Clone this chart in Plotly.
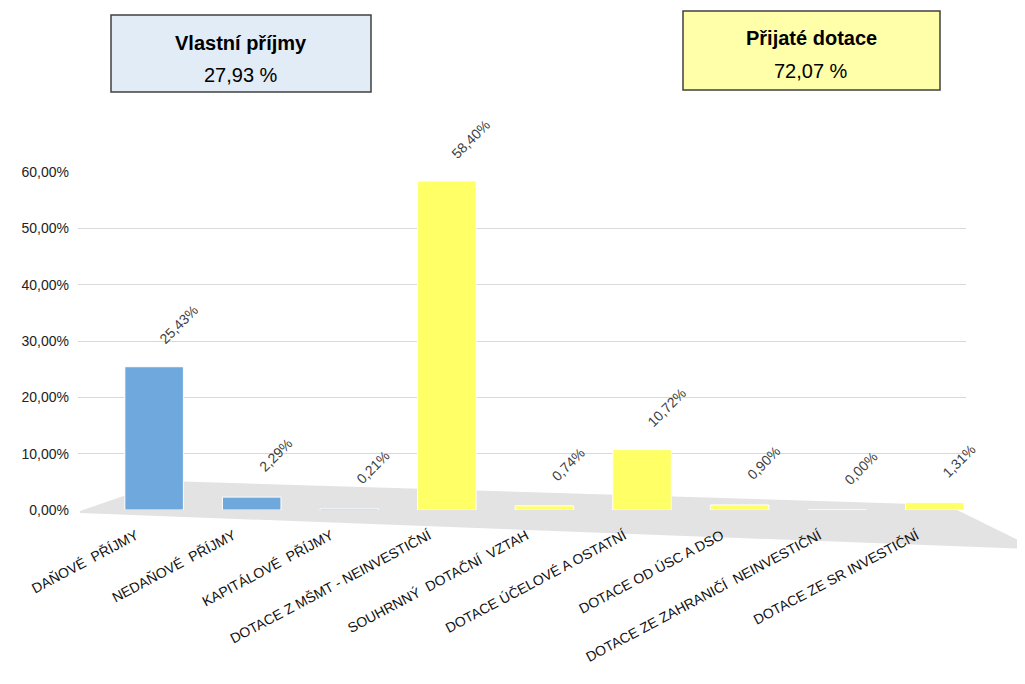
import plotly.graph_objects as go

categories = [
    "DAŇOVÉ  PŘÍJMY",
    "NEDAŇOVÉ  PŘÍJMY",
    "KAPITÁLOVÉ  PŘÍJMY",
    "DOTACE Z MŠMT - NEINVESTIČNÍ",
    "SOUHRNNÝ  DOTAČNÍ  VZTAH",
    "DOTACE ÚČELOVÉ A OSTATNÍ",
    "DOTACE OD ÚSC A DSO",
    "DOTACE ZE ZAHRANIČÍ  NEINVESTIČNÍ",
    "DOTACE ZE SR INVESTIČNÍ",
]
values = [0.2543, 0.0229, 0.0021, 0.5840, 0.0074, 0.1072, 0.0090, 0.0000, 0.0131]
groups = ["own", "own", "own", "grant", "grant", "grant", "grant", "grant", "grant"]
value_labels = ["25,43%", "2,29%", "0,21%", "58,40%", "0,74%", "10,72%", "0,90%", "0,00%", "1,31%"]

summary_titles = ["Vlastní příjmy", "Přijaté dotace"]
summary_values = ["27,93 %", "72,07 %"]

group_colors = {"own": "#6FA8DC", "grant": "#FFFF66"}
colors = [group_colors[g] for g in groups]

FONT = "Liberation Sans, Arial, sans-serif"

W, H = 1025, 684
OFF = 8  # page body margin
ML, MR, MT, MB = 70, 67, 164, 182
PW = W - ML - MR
PH = H - MT - MB


def px(x, y):
    """convert screen pixel position to paper coordinates"""
    return (x - OFF - ML) / PW, (H - MB - (y - OFF)) / PH


fig = go.Figure()
fig.add_trace(go.Bar(
    x=categories,
    y=values,
    marker=dict(color=colors, line=dict(color="white", width=1)),
    width=0.6,
    showlegend=False,
    hoverinfo="x+y",
))

annotations = []
for c, v, lab in zip(categories, values, value_labels):
    annotations.append(dict(
        x=c, y=v, xref="x", yref="y", text=lab, showarrow=False,
        textangle=-45, yshift=42, xshift=24,
        font=dict(family=FONT, size=14, color="#404040"),
    ))

# summary boxes (screen pixel extents)
boxes = [
    dict(x0=111, x1=371, y0=15, y1=92, fill="#E1ECF7", cx=241, ty=43, vy=75),
    dict(x0=683, x1=940, y0=11, y1=90, fill="#FFFFAA", cx=811, ty=38, vy=71),
]
shapes = []
for b, t, v in zip(boxes, summary_titles, summary_values):
    x0, y1 = px(b["x0"], b["y0"])
    x1, y0 = px(b["x1"], b["y1"])
    shapes.append(dict(type="rect", xref="paper", yref="paper",
                       x0=x0, x1=x1, y0=y0, y1=y1,
                       fillcolor=b["fill"], line=dict(color="#404040", width=1.5)))
    cx, ty = px(b["cx"], b["ty"])
    _, vy = px(b["cx"], b["vy"])
    annotations.append(dict(x=cx, y=ty, xref="paper", yref="paper",
                            xanchor="center", yanchor="middle",
                            text="<b>" + t + "</b>", showarrow=False,
                            font=dict(family=FONT, size=20, color="#000000")))
    annotations.append(dict(x=cx, y=vy, xref="paper", yref="paper",
                            xanchor="center", yanchor="middle",
                            text=v, showarrow=False,
                            font=dict(family=FONT, size=20, color="#000000")))

# floor plane (decorative)
floor_pts = [(80, 511), (167, 481), (947, 505), (1030, 546), (1030, 549), (80, 513)]
path = ""
for i, (a, b) in enumerate(floor_pts):
    fx, fy = px(a, b)
    path += ("M " if i == 0 else " L ") + f"{fx:.4f},{fy:.4f}"
path += " Z"
shapes.append(dict(type="path", xref="paper", yref="paper", layer="below",
                   path=path, fillcolor="#E3E3E3", line=dict(width=0)))

fig.update_layout(
    width=W, height=H,
    margin=dict(l=ML, r=MR, t=MT, b=MB),
    paper_bgcolor="white", plot_bgcolor="white",
    separators=", ",
    font=dict(family=FONT, size=12, color="#222222"),
    xaxis=dict(
        range=[-0.78, 8.32],
        tickangle=-28,
        showgrid=False, showline=False, zeroline=False,
        ticks="",
        tickfont=dict(family=FONT, size=14, color="#111111"),
        ticklabelstandoff=14,
        ticklabelshift=-18,
    ),
    yaxis=dict(
        range=[0, 0.6],
        tickformat=".2%",
        dtick=0.1,
        showgrid=True, gridcolor="#D9D9D9", gridwidth=1,
        zeroline=False, showline=False,
        tickfont=dict(family=FONT, size=14, color="#222222"),
        ticklabelstandoff=8,
    ),
    annotations=annotations,
    shapes=shapes,
)

fig.write_html("out.html")
